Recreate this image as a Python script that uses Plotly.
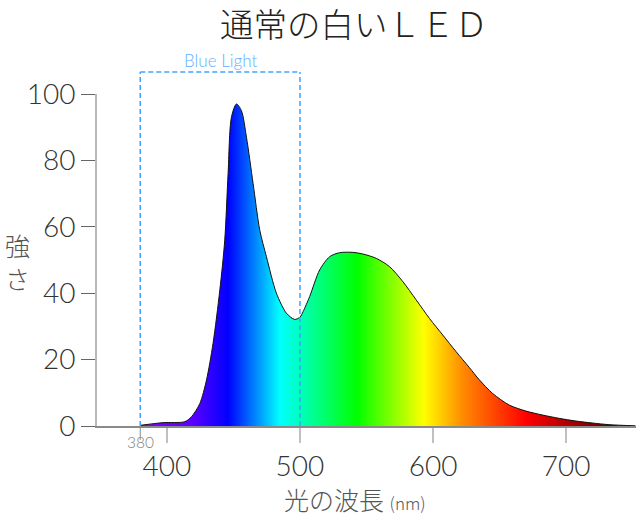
import plotly.graph_objects as go

# ---- data ----
wavelength = [380, 397, 413.5, 418.5, 424.8, 429.8, 434.7, 439.8, 443.5, 446, 448.5, 452.3,
              456, 459.8, 464.8, 469.8, 474.8, 482.3, 489.8, 496, 500, 502.3, 507.3, 514.8,
              522.3, 529.8, 539.8, 547.3, 557.3, 567.3, 577.3, 587.3, 597.3, 607.3, 617.3,
              627.3, 634.8, 644.8, 657.3, 669.8, 682.3, 694.8, 707.3, 719.8, 732.3, 752]
intensity = [0.2, 1.0, 1.3, 2.8, 6.8, 13.9, 24.9, 41, 56, 76, 93, 97,
             95, 87, 73, 59, 51, 40, 34, 32.1, 32.8, 34.4, 39, 47,
             51, 52.2, 52.3, 51.8, 50.5, 48, 43.5, 38, 32.4, 27.4, 22.4,
             17.6, 13.9, 9.8, 6.3, 4.5, 3.3, 2.3, 1.5, 0.9, 0.4, 0.05]

x_ticks = [400, 500, 600, 700]
y_ticks = [0, 20, 40, 60, 80, 100]
blue_range = [380, 500]

title_text = "通常の白いＬＥＤ"
x_title = "光の波長"
x_unit = "(nm)"
y_title = "強さ"
blue_label = "Blue Light"

# spectrum colours (wavelength, colour)
color_wl = [380, 420, 446, 485, 543, 593, 622, 670, 752]
color_hex = ["#8a00ff", "#5a00ff", "#0000ff", "#00ffff", "#00ff00", "#ffff00",
             "#ff8c00", "#ff0000", "#300000"]

w0, w1 = wavelength[0], wavelength[-1]
colorscale = [[(w - w0) / (w1 - w0), c] for w, c in zip(color_wl, color_hex)]

fig = go.Figure()
fig.add_trace(go.Scatter(
    x=wavelength, y=intensity, mode="lines",
    line=dict(color="#111111", width=1, shape="spline", smoothing=0.8),
    fill="tozeroy",
    fillgradient=dict(type="horizontal", colorscale=colorscale, start=w0, stop=w1),
    hoverinfo="skip", showlegend=False,
))

latin = "Lato, Open Sans, sans-serif"
tick_font = dict(family=latin, size=28, color="#333333", weight=300)
cjk = "Noto Sans CJK JP, sans-serif"

W, H = 640, 523
L, R, T, B = 97, 4, 94, 97
PW, PH = W - L - R, H - T - B  # plot area size (px)

fig.update_layout(
    width=W, height=H,
    margin=dict(l=L, r=R, t=T, b=B),
    paper_bgcolor="white", plot_bgcolor="white",
    title=dict(text=title_text, x=(354 - L) / PW, xref="paper", xanchor="center",
               y=1 - 25 / H, yref="container", yanchor="middle", pad=dict(t=0, b=0),
               font=dict(family=cjk, size=33.5, color="#222222", weight=300)),
    xaxis=dict(range=[347.5, 752.5], tickvals=x_ticks, showgrid=False, zeroline=False,
               showline=True, linecolor="#8a8a8a", linewidth=1.5,
               ticks="outside", ticklen=15, tickwidth=2, tickcolor="#c0c0c0",
               tickfont=tick_font),
    yaxis=dict(range=[0, 100], tickvals=y_ticks, showgrid=False, zeroline=False,
               showline=True, linecolor="#b8b8b8", linewidth=2,
               ticks="outside", ticklen=14, tickwidth=1, tickcolor="#666666",
               tickfont=tick_font),
)

dash_style = dict(color="#3fa2ff", width=1.5, dash="5px,3px")
top = 1.066
for bx in blue_range:
    fig.add_shape(type="line", xref="x", yref="paper", x0=bx, x1=bx, y0=0, y1=top,
                  line=dash_style, layer="above")
fig.add_shape(type="line", xref="x", yref="paper", x0=blue_range[0], x1=blue_range[1],
              y0=top, y1=top, line=dash_style, layer="above")

# 380 start tick
fig.add_shape(type="line", xref="x", yref="paper", x0=blue_range[0], x1=blue_range[0],
              y0=0, y1=-0.042, line=dict(color="#8a8a8a", width=1))

annos = [
    dict(text=blue_label, x=sum(blue_range) / 2, xref="x", y=top, yref="paper",
         yanchor="bottom", yshift=-1, showarrow=False,
         font=dict(family=latin, size=17, color="#62b0ff", weight=300)),
    dict(text=str(blue_range[0]), x=blue_range[0], xref="x", y=-0.048, yref="paper",
         yanchor="middle", showarrow=False,
         font=dict(family=latin, size=15.5, color="#808080", weight=300)),
    dict(text=x_title + " <span style='font-size:17px'>" + x_unit + "</span>",
         x=(355 - L) / PW, xref="paper", y=-73 / PH, yref="paper",
         xanchor="center", yanchor="middle",
         showarrow=False, font=dict(family=cjk, size=25, color="#555555", weight=300)),
    dict(text="<br>".join(list(y_title)), x=(17 - L) / PW, xref="paper",
         y=(426 - 261) / PH, yref="paper", xanchor="center", yanchor="middle",
         showarrow=False, font=dict(family=cjk, size=25, color="#555555", weight=300)),
]
fig.update_layout(annotations=annos)

fig.write_html("out.html", config={"displayModeBar": False},
               post_script="document.body.style.margin='0';")
